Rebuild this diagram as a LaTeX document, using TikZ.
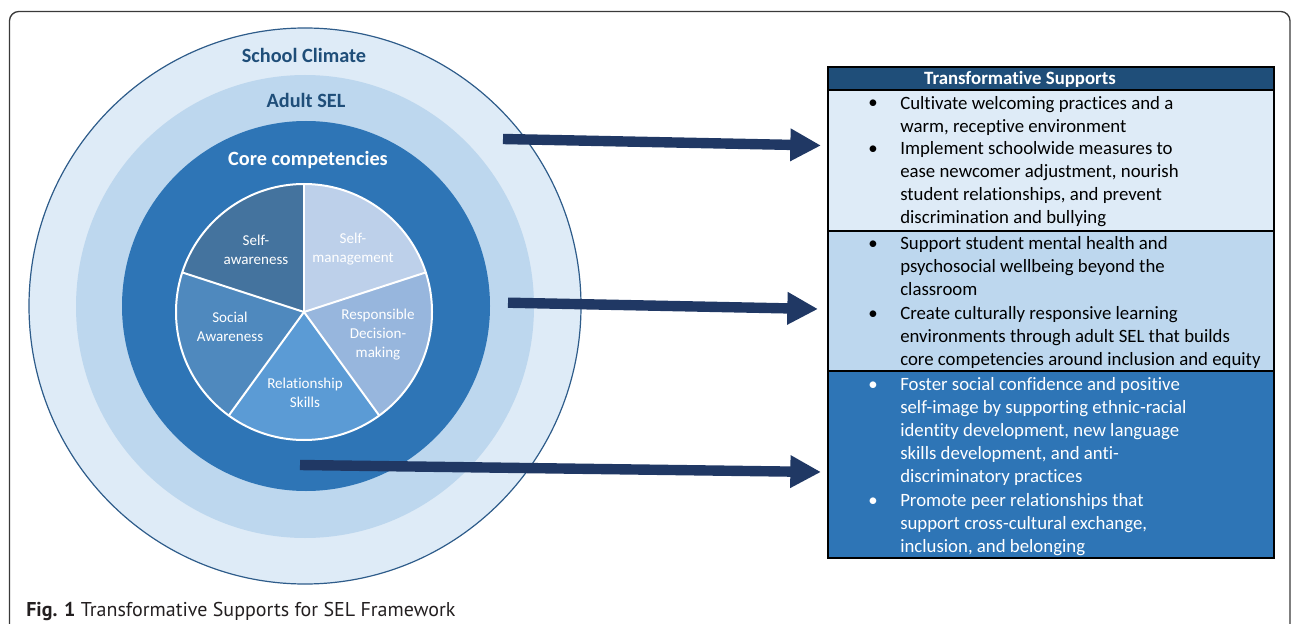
\documentclass[tikz,border=0pt]{standalone}
\usepackage{fontspec}
\setmainfont{Carlito}[Ligatures=NoCommon]
\newfontfamily\capfont{PT Sans}
\usetikzlibrary{arrows.meta,fit}
\definecolor{scfill}{HTML}{DEEBF7}
\definecolor{aselfill}{HTML}{BDD7EE}
\definecolor{corefill}{HTML}{2E75B6}
\definecolor{navy}{HTML}{203864}
\definecolor{hdrblue}{HTML}{1F4E79}
\definecolor{ringedge}{HTML}{2E5C8A}
\definecolor{framecol}{HTML}{3A3A3A}
\definecolor{pa}{HTML}{44739E}
\definecolor{pb}{HTML}{BDD0EA}
\definecolor{pc}{HTML}{97B6DD}
\definecolor{pd}{HTML}{5B9BD5}
\definecolor{pe}{HTML}{4F89BE}
\definecolor{captext}{HTML}{231F20}
\tikzset{
  biglabel/.style={inner sep=0, font=\fontsize{15.2}{18}\selectfont\bfseries, text=#1},
  slicelabel/.style={inner sep=0, align=center, text=white, font=\fontsize{11.3}{14.25}\selectfont},
  rowbox/.style={inner sep=0, draw=black, line width=0.9pt},
  itemtext/.style={anchor=north west, inner sep=0, align=left, font=\fontsize{14.1}{17.25}\selectfont},
  bulletmark/.style={anchor=base, inner sep=0, font=\fontsize{14.1}{17.25}\selectfont},
  bigarrow/.style={draw=navy, line width=7.8pt, -{Triangle[length=23pt,width=23pt]}}
}
\begin{document}
\begin{tikzpicture}[x=0.75pt,y=-0.75pt]
\useasboundingbox (0,0) rectangle (1292,624);
\clip (0,0) rectangle (1292,624);
% frame
\draw[framecol, line width=1pt, rounded corners=7pt] (9.5,700) -- (9.5,11.5) -- (1290,11.5) -- (1290,700);
% rings
\fill[scfill] (305,306) ellipse [x radius=276, y radius=278];
\draw[ringedge, line width=0.9pt] (305,306) ellipse [x radius=276, y radius=278];
\fill[aselfill] (305,306.5) ellipse [x radius=229, y radius=231.5];
\fill[corefill] (306,306) ellipse [x radius=184, y radius=185];
% pie
\begin{scope}[shift={(304,312)}, yscale=-1]
  \fill[pa] (0,0) -- (90:128) arc[start angle=90, end angle=162, radius=128] -- cycle;
  \fill[pe] (0,0) -- (162:128) arc[start angle=162, end angle=234, radius=128] -- cycle;
  \fill[pd] (0,0) -- (234:128) arc[start angle=234, end angle=306, radius=128] -- cycle;
  \fill[pc] (0,0) -- (306:128) arc[start angle=306, end angle=378, radius=128] -- cycle;
  \fill[pb] (0,0) -- (18:128) arc[start angle=18, end angle=90, radius=128] -- cycle;
  \draw[white, line width=1.5pt] (0,0) circle[radius=128];
  \foreach \a in {18,90,162,234,306} \draw[white, line width=1.5pt] (0,0) -- (\a:128);
\end{scope}
% ring labels
\node[biglabel=hdrblue] (lsc) at (304,55) {School Climate};
\node[biglabel=hdrblue] (lasel) at (306,100) {Adult SEL};
\node[biglabel=white] (lcore) at (308,160) {Core competencies};
% slice labels
\node[slicelabel] (s1) at (256,250) {Self-\\awareness};
\node[slicelabel] (s2) at (353,249) {Self-\\management};
\node[slicelabel] (s3) at (230,326.5) {Social\\Awareness};
\node[slicelabel] (s4) at (378,335) {Responsible\\Decision-\\making};
\node[slicelabel] (s5) at (305,392.5) {Relationship\\Skills};
% table
\node[rowbox, fill=hdrblue, fit={(828,67) (1274,90)}] (thead) {};
\node[rowbox, fill=scfill, fit={(828,90) (1274,231)}] (row1) {};
\node[rowbox, fill=aselfill, fit={(828,231) (1274,371)}] (row2) {};
\node[rowbox, fill=corefill, fit={(828,371) (1274,558)}] (row3) {};
\node[anchor=base, inner sep=0, text=white, font=\fontsize{14.1}{17.25}\selectfont\bfseries] (ttitle) at (1020,84.5) {Transformative Supports};
% row 1
\node[bulletmark] (b1) at (873,109) {•};
\node[itemtext] (i1) at (900,92.9) {\strut Cultivate welcoming practices and a\\warm, receptive environment};
\node[bulletmark] (b2) at (873,154.5) {•};
\node[itemtext] (i2) at (900,138.4) {\strut Implement schoolwide measures to\\ease newcomer adjustment, nourish\\student relationships, and prevent\\discrimination and bullying};
% row 2
\node[bulletmark] (b3) at (873,249.5) {•};
\node[itemtext] (i3) at (900,233.4) {\strut Support student mental health and\\psychosocial wellbeing beyond the\\classroom};
\node[bulletmark] (b4) at (873,319) {•};
\node[itemtext] (i4) at (900,302.9) {\strut Create culturally responsive learning\\environments through adult SEL that builds\\core competencies around inclusion and equity};
% row 3
\node[bulletmark, text=white] (b5) at (873,390) {•};
\node[itemtext, text=white] (i5) at (900,373.9) {\strut Foster social confidence and positive\\self-image by supporting ethnic-racial\\identity development, new language\\skills development, and anti-\\discriminatory practices};
\node[bulletmark, text=white] (b6) at (873,506) {•};
\node[itemtext, text=white] (i6) at (900,489.9) {\strut Promote peer relationships that\\support cross-cultural exchange,\\inclusion, and belonging};
% arrows
\coordinate (a1s) at (503,139);
\coordinate (a1e) at (821,145.5);
\coordinate (a2s) at (508,302.7);
\coordinate (a2e) at (818,309);
\coordinate (a3s) at (300,465);
\coordinate (a3e) at (821,472);
\draw[bigarrow] (a1s) -- (a1e);
\draw[bigarrow] (a2s) -- (a2e);
\draw[bigarrow] (a3s) -- (a3e);
% caption
\node[anchor=base west, inner sep=0, text=captext, font=\capfont\fontsize{15}{18}\selectfont] (cap) at (26,616) {\textbf{Fig. 1} Transformative Supports for SEL Framework};
\end{tikzpicture}
\end{document}
